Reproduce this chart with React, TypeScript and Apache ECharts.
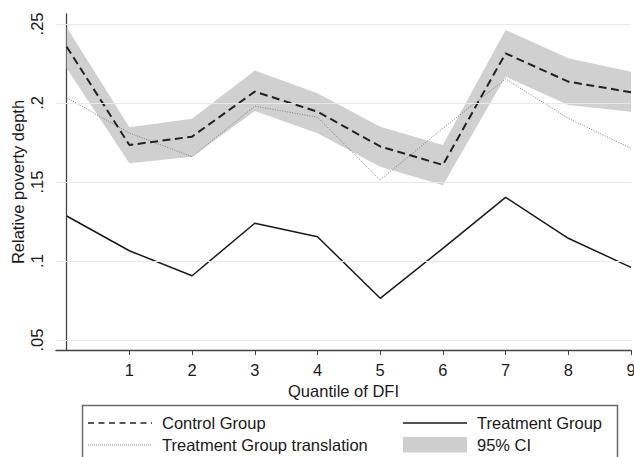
import React, { useEffect, useRef } from "react";
import * as echarts from "echarts";

const quantiles = [0, 1, 2, 3, 4, 5, 6, 7, 8, 9];
const controlGroup = [0.2356, 0.1734, 0.1787, 0.2072, 0.1945, 0.1725, 0.1608, 0.2314, 0.2135, 0.2068];
const ciUpper = [0.2479, 0.1846, 0.19, 0.2205, 0.2061, 0.185, 0.1734, 0.2462, 0.2283, 0.2198];
const ciLower = [0.222, 0.1618, 0.166, 0.195, 0.1808, 0.1597, 0.148, 0.2167, 0.1987, 0.1945];
const treatmentTranslation = [0.2034, 0.181, 0.166, 0.198, 0.191, 0.1513, 0.184, 0.2152, 0.1903, 0.1713];
const treatmentGroup = [0.1285, 0.1065, 0.0907, 0.1239, 0.1154, 0.0764, 0.108, 0.1403, 0.1144, 0.096];

const xTicks = [1, 2, 3, 4, 5, 6, 7, 8, 9];
const yTicks = [0.05, 0.1, 0.15, 0.2, 0.25];
const yTickLabels = [".05", ".1", ".15", ".2", ".25"];

const seriesNames = ["Control Group", "Treatment Group", "Treatment Group translation", "95% CI"];

const FONT = "'Liberation Sans', Arial, sans-serif";
const TEXT = "#1a1a1a";
const FS = 16.5;

export default function App() {
  const ref = useRef<HTMLDivElement>(null);
  useEffect(() => {
    if (!ref.current) return;
    const chart = echarts.init(ref.current, null, { renderer: "svg" });
    const pairs = (arr: number[]) => quantiles.map((q, i) => [q, arr[i]]);
    const legendText = (x: number, y: number, text: string) => ({
      type: "text",
      x,
      y,
      style: { text, font: `${FS}px ${FONT}`, fill: TEXT, verticalAlign: "middle" },
      z: 11,
    });
    const option = {
      animation: false,
      backgroundColor: "#ffffff",
      grid: { left: 56, top: 14, right: 3, bottom: 107, containLabel: false, outerBoundsMode: "none" },
      xAxis: {
        type: "value",
        min: -0.17,
        max: 9,
        name: "Quantile of DFI",
        nameLocation: "middle",
        nameGap: 31,
        nameTextStyle: { fontFamily: FONT, fontSize: FS, color: TEXT },
        axisLine: { show: true, lineStyle: { color: "#444", width: 1.3 } },
        axisTick: { show: true, customValues: xTicks, length: 5, lineStyle: { color: "#444", width: 1 } },
        axisLabel: { customValues: xTicks, margin: 11, fontFamily: FONT, fontSize: FS, color: TEXT },
        splitLine: { show: false },
      },
      yAxis: {
        type: "value",
        min: 0.0437,
        max: 0.2563,
        name: "Relative poverty depth",
        nameLocation: "middle",
        nameGap: 30,
        nameMoveOverlap: false,
        nameTextStyle: { fontFamily: FONT, fontSize: FS, color: TEXT },
        axisLine: { show: true, lineStyle: { color: "#444", width: 1.3 } },
        axisTick: { show: true, customValues: yTicks, length: 5, lineStyle: { color: "#444", width: 1 } },
        axisLabel: {
          customValues: yTicks,
          rotate: 90,
          margin: 11,
          fontFamily: FONT,
          fontSize: FS,
          color: TEXT,
          formatter: (v: number) => {
            const idx = yTicks.findIndex((t) => Math.abs(t - v) < 1e-9);
            return idx >= 0 ? yTickLabels[idx] : "";
          },
        },
        splitLine: { show: false },
      },
      series: [
        {
          type: "line",
          name: "grid",
          data: [],
          silent: true,
          z: 0,
          markLine: {
            silent: true,
            symbol: "none",
            label: { show: false },
            lineStyle: { color: "#e3ebf0", width: 1, type: "solid" },
            data: yTicks.map((t) => ({ yAxis: t })),
          },
        },
        {
          type: "custom",
          name: seriesNames[3],
          data: [[0, 0]],
          silent: true,
          z: 1,
          renderItem: (params: any, api: any) => {
            const pts: number[][] = [];
            quantiles.forEach((q, i) => pts.push(api.coord([q, ciUpper[i]])));
            for (let i = quantiles.length - 1; i >= 0; i--) pts.push(api.coord([quantiles[i], ciLower[i]]));
            return {
              type: "polygon",
              shape: { points: pts },
              style: { fill: "#cecece", opacity: 0.95 },
            };
          },
        },
        {
          type: "line",
          name: seriesNames[2],
          data: pairs(treatmentTranslation),
          symbol: "none",
          lineStyle: { color: "#7a7a7a", width: 1, type: [1, 1.5] },
          z: 3,
        },
        {
          type: "line",
          name: seriesNames[0],
          data: pairs(controlGroup),
          symbol: "none",
          lineStyle: { color: "#222", width: 2, type: [8, 4.5] },
          z: 4,
        },
        {
          type: "line",
          name: seriesNames[1],
          data: pairs(treatmentGroup),
          symbol: "none",
          lineStyle: { color: "#1a1a1a", width: 1.5 },
          z: 4,
        },
      ],
      graphic: [
        {
          type: "rect",
          shape: { x: 82.5, y: 405.5, width: 535, height: 70 },
          style: { fill: "#fff", stroke: "#6a6a6a", lineWidth: 1.5 },
          z: 10,
        },
        {
          type: "line",
          shape: { x1: 88, y1: 423, x2: 152, y2: 423 },
          style: { stroke: "#222", lineWidth: 1.3, lineDash: [6, 4.5] },
          z: 11,
        },
        legendText(162, 423, seriesNames[0]),
        {
          type: "line",
          shape: { x1: 88, y1: 445, x2: 152, y2: 445 },
          style: { stroke: "#8a8a8a", lineWidth: 1, lineDash: [1, 1] },
          z: 11,
        },
        legendText(162, 445, seriesNames[2]),
        {
          type: "line",
          shape: { x1: 403, y1: 423, x2: 467, y2: 423 },
          style: { stroke: "#1a1a1a", lineWidth: 1.3 },
          z: 11,
        },
        legendText(477, 423, seriesNames[1]),
        {
          type: "rect",
          shape: { x: 403, y: 437, width: 64, height: 15.5 },
          style: { fill: "#cecece" },
          z: 11,
        },
        legendText(477, 445, seriesNames[3]),
      ],
    };
    chart.setOption(option as any);
    return () => chart.dispose();
  }, []);
  return (
    <div
      ref={ref}
      style={{ position: "absolute", left: 0, top: 0, width: 634, height: 457, background: "#fff" }}
    />
  );
}
